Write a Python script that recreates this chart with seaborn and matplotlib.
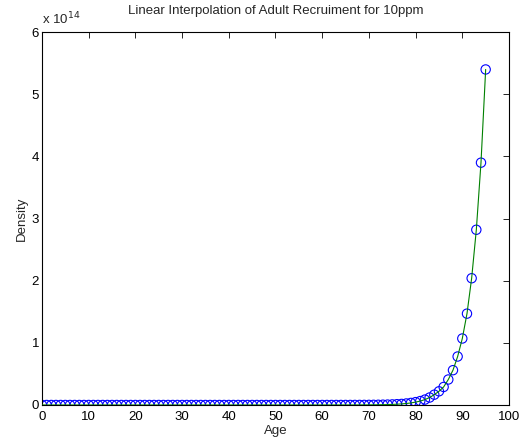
import numpy as np
import pandas as pd
import seaborn as sns
from matplotlib import pyplot as plt
from matplotlib.ticker import FuncFormatter

ages = list(range(0, 96))
# density values, in units of 1e14
density = [
    0.0, 0.0, 0.0, 0.0, 0.0, 0.0, 0.0, 0.0, 0.0, 0.0,
    0.0, 0.0, 0.0, 0.0, 0.0, 0.0, 0.0, 0.0, 0.0, 0.0,
    0.0, 0.0, 0.0, 0.0, 0.0, 0.0, 0.0, 0.0, 0.0, 0.0,
    0.0, 0.0, 0.0, 0.0, 0.0, 0.0, 0.0, 0.0, 0.0, 0.0,
    0.0, 0.0, 0.0, 0.0, 0.0, 0.0, 0.0, 0.0, 0.0, 0.0,
    0.0, 0.0, 0.0, 0.0, 0.0, 0.0, 0.0, 0.0, 0.0, 0.0,
    0.0001, 0.0001, 0.0002, 0.0002, 0.0003, 0.0004, 0.0005, 0.0007, 0.001, 0.0013,
    0.0018, 0.0025, 0.0034, 0.0047, 0.0065, 0.009, 0.0125, 0.017, 0.024, 0.033,
    0.046, 0.063, 0.087, 0.12, 0.166, 0.22, 0.29, 0.41, 0.56, 0.78,
    1.07, 1.47, 2.04, 2.82, 3.90, 5.40,
]
scale = 1e14

df = pd.DataFrame({"Age": ages, "Density": np.array(density) * scale})

sns.set_style("white")
plt.rcParams['font.family'] = ['Liberation Sans', 'DejaVu Sans']
plt.rcParams['font.size'] = 9.5

fig = plt.figure(figsize=(5.31, 4.47), dpi=100)
ax = fig.add_axes([0.079, 0.094, 0.8796, 0.834])

# blue circles, green line through them
sns.scatterplot(data=df, x="Age", y="Density", ax=ax, marker="o", s=45,
                facecolor="none", edgecolor="blue", linewidth=0.8, zorder=2)
sns.lineplot(data=df, x="Age", y="Density", ax=ax, color=(0, 0.5, 0),
             linewidth=0.8, zorder=3)

ax.set_xlim(0, 100)
ax.set_ylim(0, 6 * scale)
ax.set_xticks(range(0, 101, 10))
ax.set_yticks([i * scale for i in range(7)])
ax.yaxis.set_major_formatter(FuncFormatter(lambda v, p: f"{v / scale:g}"))
ax.tick_params(direction="in", length=4, width=0.6, top=True, right=True,
               labelsize=9.5, colors="black")
ax.tick_params(axis="x", pad=4)
ax.tick_params(axis="y", pad=2)
for sp in ax.spines.values():
    sp.set_color("black")
    sp.set_linewidth(0.8)

ax.set_xlabel("Age", fontsize=9.5, labelpad=2)
ax.set_ylabel("Density", fontsize=9.5, labelpad=3)
ax.set_title("Linear Interpolation of Adult Recruiment for 10ppm", fontsize=9.5, pad=13)
ax.text(0.0, 1.012, r"x 10$^{14}$", transform=ax.transAxes, fontsize=9.5,
        ha="left", va="bottom")

plt.savefig("out.png", dpi=100)
